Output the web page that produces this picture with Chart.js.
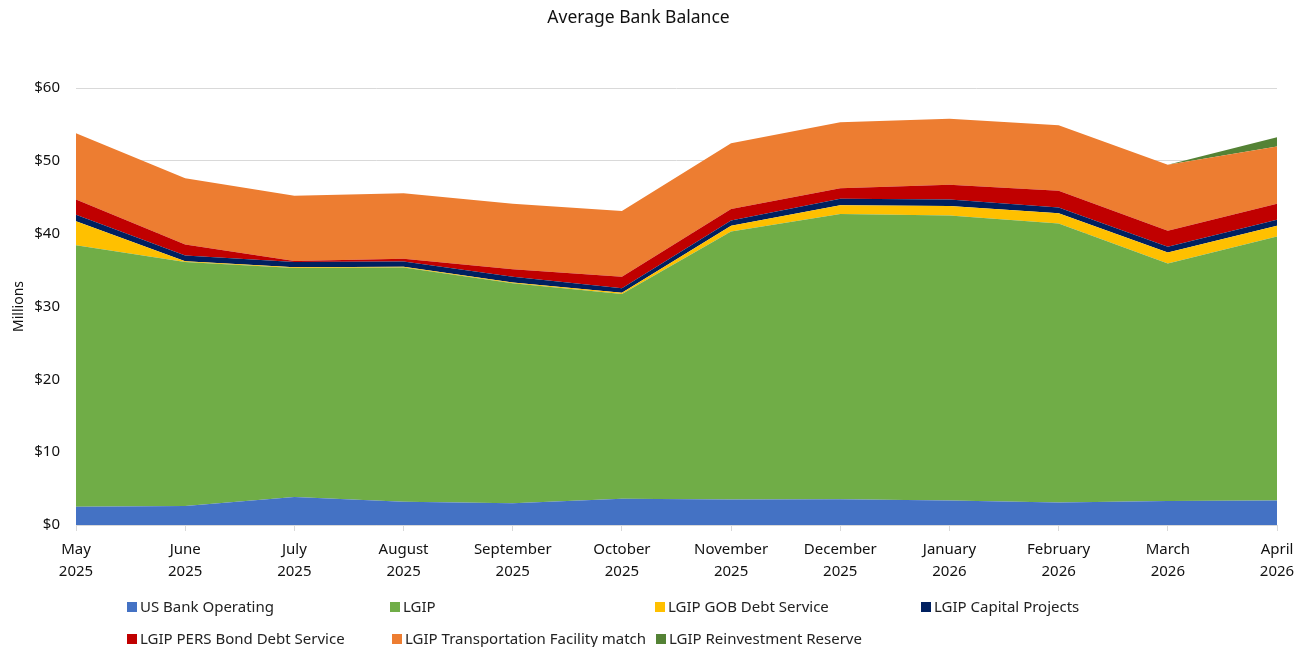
<!DOCTYPE html>
<html>
<head>
<meta charset="utf-8">
<script src="https://cdn.jsdelivr.net/npm/chart.js@4.4.1/dist/chart.umd.min.js"></script>
<style>
  html, body { margin: 0; padding: 0; background: #fff; }
  #wrap { position: relative; width: 1310px; height: 647px; }
  .lg { position: absolute; font-family: "Noto Sans", sans-serif; font-size: 15px; color: #222; white-space: nowrap; line-height: 18px; }
  .lg i { display: inline-block; width: 10px; height: 10px; margin-right: 3px; }
</style>
</head>
<body>
<div id="wrap">
  <canvas id="chart" width="1310" height="647"></canvas>
  <div id="legend"></div>
</div>
<script>
const months = [
  ["May", "2025"], ["June", "2025"], ["July", "2025"], ["August", "2025"],
  ["September", "2025"], ["October", "2025"], ["November", "2025"], ["December", "2025"],
  ["January", "2026"], ["February", "2026"], ["March", "2026"], ["April", "2026"]
];

// millions
const usBankOperating = [2.5, 2.6, 3.85, 3.2, 3.0, 3.6, 3.5, 3.55, 3.35, 3.1, 3.3, 3.35];
const lgip            = [35.9, 33.5, 31.45, 32.15, 30.2, 28.1, 36.8, 39.15, 39.15, 38.3, 32.6, 36.25];
const gobDebt         = [3.3, 0.1, 0.1, 0.1, 0.1, 0.2, 0.77, 1.2, 1.3, 1.4, 1.5, 1.47];
const capitalProjects = [0.9, 0.8, 0.7, 0.72, 0.8, 0.6, 0.73, 0.88, 0.9, 0.8, 0.8, 0.83];
const persBondDebt    = [2.1, 1.5, 0.15, 0.37, 1.0, 1.6, 1.6, 1.47, 2.0, 2.3, 2.2, 2.2];
const transportMatch  = [9.1, 9.1, 8.95, 9.0, 9.0, 9.0, 9.0, 9.05, 9.07, 9.0, 9.05, 7.86];
const reinvestReserve = [0, 0, 0, 0, 0, 0, 0, 0, 0, 0, 0, 1.29];

const yTicks = [0, 10, 20, 30, 40, 50, 60];

const series = [
  { label: "US Bank Operating", data: usBankOperating, color: "#4472C4" },
  { label: "LGIP", data: lgip, color: "#70AD47" },
  { label: "LGIP GOB Debt Service", data: gobDebt, color: "#FFC000" },
  { label: "LGIP Capital Projects", data: capitalProjects, color: "#002060" },
  { label: "LGIP PERS Bond Debt Service", data: persBondDebt, color: "#C00000" },
  { label: "LGIP Transportation Facility match", data: transportMatch, color: "#ED7D31" },
  { label: "LGIP Reinvestment Reserve", data: reinvestReserve, color: "#548235" }
];

const datasets = series.map((s, i) => ({
  label: s.label,
  data: s.data,
  backgroundColor: s.color,
  borderColor: s.color,
  borderWidth: 0,
  pointRadius: 0,
  pointHoverRadius: 0,
  tension: 0,
  fill: i === 0 ? "origin" : "-1"
}));

new Chart(document.getElementById("chart"), {
  type: "line",
  data: { labels: months, datasets },
  options: {
    responsive: false,
    animation: false,
    layout: { padding: { left: 0, right: 33, top: 0, bottom: 60 } },
    plugins: {
      legend: { display: false },
      tooltip: { enabled: false },
      title: {
        display: true,
        text: "Average Bank Balance",
        color: "#111",
        font: { family: "Noto Sans", size: 17.5, weight: "normal", lineHeight: 1.2 },
        padding: { top: 8, bottom: 59 }
      }
    },
    scales: {
      x: {
        offset: false,
        grid: { display: true, drawOnChartArea: false, drawTicks: true, tickLength: 6, color: "#d9d9d9" },
        border: { display: true, color: "#d9d9d9" },
        ticks: {
          autoSkip: false, maxRotation: 0, minRotation: 0, padding: 8,
          color: "#111",
          font: { family: "Noto Sans", size: 15, lineHeight: 1.47 }
        },
        afterFit: (s) => { s.height = 62; }
      },
      y: {
        stacked: true,
        min: 0, max: 60,
        afterBuildTicks: (s) => { s.ticks = yTicks.map(v => ({ value: v })); },
        grid: { color: "#d9d9d9", drawTicks: false },
        border: { display: false },
        ticks: {
          padding: 16,
          color: "#111",
          font: { family: "Noto Sans", size: 15 },
          callback: (v) => "$" + v
        },
        title: {
          display: true, text: "Millions", color: "#111",
          font: { family: "Noto Sans", size: 14 },
          padding: { top: 11, bottom: 0 }
        },
        afterFit: (s) => { s.width = 76; }
      }
    }
  }
});

// legend laid out in Excel-like columns
const legendPos = [
  [127, 606], [390, 606], [655, 606], [921, 606],
  [127, 638], [392, 638], [656, 638]
];
const lg = document.getElementById("legend");
series.forEach((s, i) => {
  const d = document.createElement("div");
  d.className = "lg";
  d.style.left = legendPos[i][0] + "px";
  d.style.top = (legendPos[i][1] - 9) + "px";
  d.innerHTML = '<i style="background:' + s.color + '"></i>' + s.label;
  lg.appendChild(d);
});
</script>
</body>
</html>
